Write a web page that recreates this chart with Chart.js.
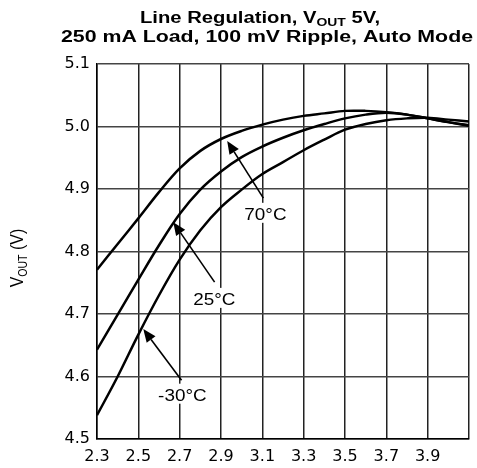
<!DOCTYPE html>
<html><head><meta charset="utf-8">
<script src="https://cdn.jsdelivr.net/npm/chart.js@4.4.1/dist/chart.umd.min.js"></script>
<style>html,body{margin:0;padding:0;background:#fff;}canvas{display:block;}</style>
</head><body>
<canvas id="c" width="477" height="468"></canvas>
<script>
// ---- data ----
const vin      = [2.3, 2.4, 2.5, 2.6, 2.7, 2.8, 2.9, 3.0, 3.1, 3.2, 3.3, 3.4, 3.5, 3.6, 3.7, 3.8, 3.9, 4.0, 4.1];
const vout70   = [4.771, 4.812, 4.853, 4.895, 4.933, 4.961, 4.980, 4.993, 5.003, 5.011, 5.017, 5.021, 5.025, 5.025, 5.023, 5.019, 5.013, 5.007, 5.001];
const vout25   = [4.643, 4.699, 4.755, 4.810, 4.860, 4.899, 4.928, 4.951, 4.968, 4.982, 4.994, 5.004, 5.013, 5.019, 5.022, 5.019, 5.013, 5.007, 5.002];
const voutM30  = [4.538, 4.600, 4.667, 4.730, 4.787, 4.834, 4.871, 4.899, 4.924, 4.943, 4.962, 4.979, 4.995, 5.004, 5.010, 5.013, 5.014, 5.011, 5.008];
const seriesNames = ['70°C', '25°C', '-30°C'];
const xTickLabels = ['2.3', '2.5', '2.7', '2.9', '3.1', '3.3', '3.5', '3.7', '3.9'];
const yTickLabels = ['4.5', '4.6', '4.7', '4.8', '4.9', '5.0', '5.1'];

// annotation anchors (data units)
const labelX  = [3.115, 2.868, 2.713];
const labelY  = [4.8507, 4.7146, 4.5613];
const tailX   = [3.105, 2.869, 2.709];
const tailY   = [4.8854, 4.751, 4.594];
const tipX    = [2.930, 2.669, 2.524];
const tipY    = [4.977, 4.847, 4.676];

const FONT = '"Liberation Sans", Arial, sans-serif';

function pts(ys) { return vin.map((x, i) => ({ x: x, y: ys[i] })); }
function ds(label, ys) {
  return { label: label, data: pts(ys), borderColor: '#000', borderWidth: 2.5,
           pointRadius: 0, fill: false, tension: 0.35 };
}

function stretchedText(ctx, parts, x, baseline, sx, align) {
  let w = 0;
  parts.forEach(p => { ctx.font = p.font; p.w = ctx.measureText(p.t).width; w += p.w; });
  ctx.save();
  ctx.translate(x, baseline);
  ctx.scale(sx, 1);
  let start = align === 'center' ? -w / 2 : (align === 'right' ? -w : 0);
  ctx.textAlign = 'left';
  ctx.textBaseline = 'alphabetic';
  parts.forEach(p => { ctx.font = p.font; ctx.fillText(p.t, start, p.dy || 0); start += p.w; });
  ctx.restore();
  return w;
}
function measureParts(ctx, parts) {
  let w = 0; parts.forEach(p => { ctx.font = p.font; w += ctx.measureText(p.t).width; }); return w;
}

const decor = {
  id: 'decor',
  afterDatasetsDraw(chart) {
    const ctx = chart.ctx, xs = chart.scales.x, ys = chart.scales.y;
    ctx.save();
    for (let i = 0; i < seriesNames.length; i++) {
      const x0 = xs.getPixelForValue(tailX[i]), y0 = ys.getPixelForValue(tailY[i]);
      const x1 = xs.getPixelForValue(tipX[i]),  y1 = ys.getPixelForValue(tipY[i]);
      const ang = Math.atan2(y1 - y0, x1 - x0);
      const hl = 13, hw = 5.5;
      const bx = x1 - hl * Math.cos(ang), by = y1 - hl * Math.sin(ang);
      ctx.strokeStyle = '#000'; ctx.lineWidth = 1.6;
      ctx.beginPath(); ctx.moveTo(x0, y0); ctx.lineTo(bx, by); ctx.stroke();
      ctx.fillStyle = '#000';
      ctx.beginPath();
      ctx.moveTo(x1, y1);
      ctx.lineTo(bx + hw * Math.sin(ang), by - hw * Math.cos(ang));
      ctx.lineTo(bx - hw * Math.sin(ang), by + hw * Math.cos(ang));
      ctx.closePath(); ctx.fill();
      const lx = xs.getPixelForValue(labelX[i]), ly = ys.getPixelForValue(labelY[i]);
      const parts = [{ t: seriesNames[i], font: '16px ' + FONT }];
      const sx = 1.18;
      const w = measureParts(ctx, parts) * sx;
      ctx.fillStyle = '#fff';
      ctx.fillRect(lx - w / 2 - 2, ly - 17, w + 4, 20);
      ctx.fillStyle = '#000';
      stretchedText(ctx, parts, lx, ly, sx, 'center');
    }
    ctx.restore();
  },
  afterDraw(chart) {
    const ctx = chart.ctx;
    ctx.save();
    ctx.fillStyle = '#000';
    const l1 = [
      { t: 'Line Regulation, V', font: 'bold 16px ' + FONT },
      { t: 'OUT', font: 'bold 11px ' + FONT, dy: 3.7 },
      { t: ' 5V,', font: 'bold 16px ' + FONT }
    ];
    const w1 = measureParts(ctx, l1);
    stretchedText(ctx, l1, 140, 22.5, 240 / w1, 'left');
    const l2 = [{ t: '250 mA Load, 100 mV Ripple, Auto Mode', font: 'bold 16px ' + FONT }];
    const w2 = measureParts(ctx, l2);
    stretchedText(ctx, l2, 61, 41.5, 412 / w2, 'left');
    const yt = [
      { t: 'V', font: '16px ' + FONT },
      { t: 'OUT', font: '10.5px ' + FONT, dy: 3 },
      { t: ' (V)', font: '16px ' + FONT }
    ];
    ctx.save();
    ctx.translate(23, 258);
    ctx.scale(1.2, 1);
    ctx.rotate(-Math.PI / 2);
    stretchedText(ctx, yt, 0, 0, 1, 'center');
    ctx.restore();
    ctx.restore();
  }
};

new Chart(document.getElementById('c'), {
  type: 'line',
  data: { datasets: [ds(seriesNames[0], vout70), ds(seriesNames[1], vout25), ds(seriesNames[2], voutM30)] },
  options: {
    responsive: false,
    animation: false,
    layout: { padding: { top: 64, right: 6, left: 0, bottom: 0 } },
    plugins: { legend: { display: false }, tooltip: { enabled: false }, title: { display: false } },
    scales: {
      x: {
        type: 'linear', min: 2.3, max: 4.1,
        ticks: {
          stepSize: 0.2, autoSkip: false, maxRotation: 0, minRotation: 0, padding: 8, color: '#000',
          font: { family: '"DejaVu Sans"', size: 16 },
          callback: v => { const s = Number(v).toFixed(1); return xTickLabels.includes(s) ? s : ''; }
        },
        grid: { color: '#222', lineWidth: 1.5, drawTicks: false },
        border: { color: '#000', width: 1.5 },
        afterFit: s => { s.height = 29; }
      },
      y: {
        type: 'linear', min: 4.5, max: 5.1,
        ticks: {
          stepSize: 0.1, padding: 7, color: '#000', labelOffset: 0,
          font: { family: '"DejaVu Sans"', size: 16 },
          callback: v => { const s = Number(v).toFixed(1); return yTickLabels.includes(s) ? s : ''; }
        },
        grid: { color: '#444', lineWidth: 1.5, drawTicks: false },
        border: { color: '#000', width: 1.5 },
        afterFit: s => { s.width = 97; }
      }
    }
  },
  plugins: [decor]
});
</script>
</body></html>
